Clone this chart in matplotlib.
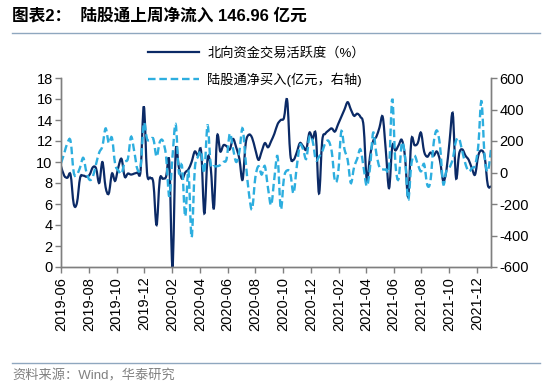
import numpy as np
import pandas as pd
import matplotlib
matplotlib.use('Agg')
import matplotlib.pyplot as plt
import matplotlib.dates as mdates
from matplotlib.lines import Line2D
from matplotlib.path import Path
from matplotlib.patches import PathPatch

plt.rcParams['font.family'] = ['Liberation Sans', 'Noto Sans CJK SC', 'DejaVu Sans']
plt.rcParams['axes.unicode_minus'] = False

# weekly observations, 2019-06 .. 2021-12
dates = pd.date_range('2019-06-01', periods=136, freq='7D')

# 北向资金交易活跃度 (%)
activity = [
    9.6, 8.7, 8.5, 8.8, 6.0, 6.1, 8.5, 8.7, 8.6, 8.8,
    9.5, 9.4, 8.0, 10.0, 7.6, 7.0, 8.9, 8.2, 9.5, 10.3,
    8.6, 8.9, 8.8, 8.9, 9.0, 9.2, 15.3, 9.0, 8.5, 8.0,
    4.0, 8.3, 8.4, 8.6, 10.0, 0.0, 11.0, 9.5, 8.4, 9.0,
    9.3, 10.0, 11.0, 10.6, 11.0, 5.1, 10.3, 9.5, 5.6, 12.4,
    11.0, 11.6, 11.5, 11.2, 12.2, 11.4, 10.3, 8.3, 11.8, 12.6,
    12.3, 11.2, 10.2, 11.0, 11.8, 11.4, 12.0, 12.7, 13.6, 14.0,
    14.2, 15.9, 10.7, 10.2, 10.9, 11.8, 11.5, 11.2, 12.8, 12.2,
    12.6, 7.0, 12.0, 12.7, 13.0, 13.2, 12.9, 13.6, 14.3, 15.0,
    15.7, 15.0, 14.4, 14.6, 14.3, 13.4, 8.3, 10.5, 12.0, 12.4,
    13.3, 14.3, 11.0, 7.5, 11.5, 11.1, 11.6, 12.1, 10.5, 6.7,
    12.1, 11.6, 11.8, 12.8, 11.0, 10.5, 10.9, 10.6, 11.0, 10.1,
    8.2, 9.2, 12.0, 14.6, 8.5, 10.8, 11.2, 10.6, 10.2, 9.4,
    8.8, 10.6, 11.1, 10.5, 7.8, 7.7,
]

# 陆股通净买入 (亿元, 右轴)
netbuy = [
    60, 120, 187, 200, 0, -13, 33, 93, 0, -47,
    -27, 53, 127, 167, 280, 187, 220, 53, 13, -7,
    67, 87, 227, 133, 20, 40, 313, 213, 207, 213,
    100, 193, 200, 100, -153, 100, 307, 0, 40, -280,
    13, -413, 20, 100, 133, 0, 300, 53, 40, 40,
    47, 67, 87, 247, 153, 67, 133, 280, 67, -133,
    -233, -33, 40, -13, 40, -100, -207, -33, 100, -233,
    -33, 13, -7, -133, 33, 173, 147, 87, 227, 200,
    80, 100, 133, 187, 200, 133, -53, -7, 260, 147,
    80, -67, 33, 87, 147, 33, -87, 27, 253, 120,
    33, 20, 20, 33, 467, 53, -40, 187, 100, -173,
    53, 107, 53, 7, 53, -80, -53, 187, 267, 167,
    -73, 13, 33, 87, 200, 213, 133, 53, 7, 27,
    47, 167, 453, 100, 7, 147,
]

label_activity = '北向资金交易活跃度（%）'
label_netbuy = '陆股通净买入(亿元，右轴)'
dark = '#0B2A66'
light = '#2DAEDF'
axis_grey = '#7F7F7F'


def smooth_path(x, y):
    # Excel-like smoothed line: cubic Bezier segments through every point
    x = np.asarray(x, float)
    y = np.asarray(y, float)
    n = len(x)
    verts = [(x[0], y[0])]
    codes = [Path.MOVETO]
    for i in range(n - 1):
        p0 = max(i - 1, 0)
        p3 = min(i + 2, n - 1)
        c1 = (x[i] + (x[i + 1] - x[p0]) / 6, y[i] + (y[i + 1] - y[p0]) / 6)
        c2 = (x[i + 1] - (x[p3] - x[i]) / 6, y[i + 1] - (y[p3] - y[i]) / 6)
        verts += [c1, c2, (x[i + 1], y[i + 1])]
        codes += [Path.CURVE4] * 3
    return Path(verts, codes)


fig = plt.figure(figsize=(5.5, 3.88), dpi=100)
ax = fig.add_axes([61 / 550, 1 - 267 / 388, 430 / 550, 189 / 388])
ax2 = ax.twinx()

xnum = mdates.date2num(dates)
ax.add_patch(PathPatch(smooth_path(xnum, activity), fill=False,
                       edgecolor=dark, lw=1.6))
ax2.add_patch(PathPatch(smooth_path(xnum, netbuy), fill=False,
                        edgecolor=light, lw=1.7, ls=(0, (3.2, 1.6))))

l1 = Line2D([], [], color=dark, lw=1.6)
l2 = Line2D([], [], color=light, lw=1.7, ls=(0, (3.2, 1.6)))

ax.set_xlim(xnum[0], xnum[-1])
ax.set_ylim(0, 18)
ax.set_yticks(np.arange(0, 19, 2))
ax2.set_ylim(-600, 600)
ax2.set_yticks(np.arange(-600, 601, 200))

ax.xaxis.set_major_locator(mdates.MonthLocator(bymonth=[2, 4, 6, 8, 10, 12]))
ax.xaxis.set_major_formatter(mdates.DateFormatter('%Y-%m'))
for lab in ax.get_xticklabels():
    lab.set_rotation(90)

for a in (ax, ax2):
    a.spines['top'].set_visible(False)
    for s in ('left', 'right', 'bottom'):
        a.spines[s].set_color(axis_grey)
        a.spines[s].set_linewidth(1.0)
    a.tick_params(axis='both', direction='out', length=4, width=1.0,
                  color=axis_grey, labelsize=10.5, pad=2)
ax.tick_params(axis='x', labelsize=10.5, pad=3)

fig.legend([l1, l2], [label_activity, label_netbuy], loc='upper left',
           bbox_to_anchor=(148 / 550, 1 - 47 / 388), frameon=False,
           borderpad=0, borderaxespad=0, handlelength=3.9,
           handletextpad=0.6, labelspacing=0.95,
           prop={'family': ['Liberation Sans', 'Noto Sans CJK SC'], 'size': 9.5})

fig.text(12 / 550, 1 - 16 / 388, '图表2：  陆股通上周净流入 146.96 亿元',
         fontsize=12, fontweight='bold', va='center', ha='left')
fig.add_artist(Line2D([12 / 550, 540 / 550], [1 - 33 / 388] * 2,
                      color='#8FA7BF', lw=1.0))
fig.add_artist(Line2D([12 / 550, 540 / 550], [1 - 363 / 388] * 2,
                      color='#8FA7BF', lw=1.0))
fig.text(12 / 550, 1 - 376 / 388, '资料来源：Wind，华泰研究',
         fontsize=9.5, color='#808080', va='center', ha='left')

fig.savefig('out.png', dpi=100)
